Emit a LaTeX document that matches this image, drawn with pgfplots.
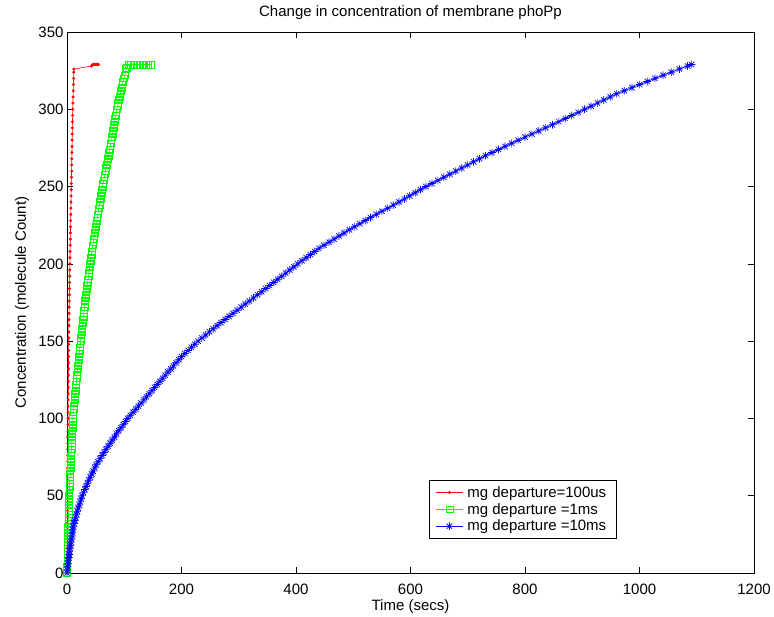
\documentclass[border=0pt]{standalone}
\usepackage{fontspec}
\setmainfont{Liberation Sans}
\usepackage{pgfplots}
\pgfplotsset{compat=1.18}
\pgfdeclareplotmark{mstar}{%
 \pgfpathmoveto{\pgfqpoint{\pgfplotmarksize}{0pt}}\pgfpathlineto{\pgfqpoint{-\pgfplotmarksize}{0pt}}%
 \pgfpathmoveto{\pgfqpoint{0pt}{\pgfplotmarksize}}\pgfpathlineto{\pgfqpoint{0pt}{-\pgfplotmarksize}}%
 \pgfpathmoveto{\pgfqpoint{.707\pgfplotmarksize}{.707\pgfplotmarksize}}\pgfpathlineto{\pgfqpoint{-.707\pgfplotmarksize}{-.707\pgfplotmarksize}}%
 \pgfpathmoveto{\pgfqpoint{.707\pgfplotmarksize}{-.707\pgfplotmarksize}}\pgfpathlineto{\pgfqpoint{-.707\pgfplotmarksize}{.707\pgfplotmarksize}}%
 \pgfusepathqstroke}
\definecolor{mred}{rgb}{1,0,0}
\definecolor{mgreen}{rgb}{0,1,0}
\definecolor{mblue}{rgb}{0,0,1}
\begin{document}
\begin{tikzpicture}
\useasboundingbox (-67bp,-44bp) rectangle (707bp,573bp);
\begin{axis}[
  at={(0,0)}, anchor=south west,
  scale only axis, width=687bp, height=541bp,
  xmin=0, xmax=1200, ymin=0, ymax=350,
  xtick={0,200,...,1200}, ytick={0,50,...,350},
  scaled ticks=false,
  /pgf/number format/1000 sep={},
  /pgf/number format/assume math mode=true,
  font=\fontsize{15bp}{18bp}\selectfont,
  tick align=inside, major tick length=6bp,
  axis line style={line width=0.7bp},
  tick style={line width=0.6bp, black},
  clip=false,
  xticklabel style={anchor=base, yshift=-21bp},
  title={Change in concentration of membrane phoPp},
  title style={at={(axis description cs:0.5,1.0185)}, anchor=base},
  xlabel={Time (secs)},
  xlabel style={at={(axis description cs:0.5,-0.0684)}, anchor=base},
  ylabel={Concentration (molecule Count)},
  ylabel style={at={(axis description cs:-0.0600,0.5)}, anchor=base, rotate=0},
  legend style={at={(axis description cs:0.527,0.172)}, anchor=north west,
    draw=black, line width=0.7bp, font=\fontsize{15bp}{16.5bp}\selectfont,
    inner xsep=6bp, inner ysep=4bp, row sep=0.5bp,
    nodes={inner xsep=4bp}},
  legend cell align=left,
  legend image code/.code={\draw[mark repeat=2,mark phase=2] plot coordinates {(0cm,0cm) (0.48cm,0cm) (0.96cm,0cm)};},
]
\addplot[mred, line width=0.6bp, mark=*, mark size=1.2bp, mark options={solid}] coordinates {
(0,0)(0.06,4)(0.13,8)(0.19,12)(0.26,16)(0.32,20)(0.38,24)(0.45,28)(0.51,32)(0.58,36)(0.64,40)(0.7,44)(0.77,48)
(0.84,52)(0.91,56)(0.98,60)(1.05,64)(1.12,68)(1.2,72)(1.27,76)(1.34,80)(1.41,84)(1.48,88)(1.56,92)(1.63,96)(1.7,100)
(1.8,104)(1.91,108)(2.01,112)(2.12,116)(2.22,120)(2.32,124)(2.43,128)(2.53,132)(2.64,136)(2.74,140)(2.84,144)(2.95,148)
(3.08,152)(3.24,156)(3.4,160)(3.56,164)(3.72,168)(3.88,172)(4.04,176)(4.2,180)(4.36,184)(4.52,188)(4.68,192)(4.84,196)(5,200)
(5.2,204)(5.4,208)(5.6,212)(5.8,216)(6,220)(6.2,224)(6.4,228)(6.6,232)(6.8,236)(7,240)(7.2,244)(7.4,248)
(7.6,252)(7.8,256)(8,260)(8.2,264)(8.4,268)(8.6,272)(8.8,276)(9,280)(9.2,284)(9.4,288)(9.6,292)(9.8,296)(10,300)
(10.31,304)(10.62,308)(10.92,312)(11.23,316)(11.54,320)(11.85,324)(12,326)
(43,328)(45,329)(47,329)(49,329)(51,329)(53,329)(55,329)
};
\addlegendentry{mg departure=100us}
\addplot[mgreen, line width=0.6bp, mark=square, mark size=3.4bp, mark options={solid}] coordinates {
(0,0)(0.13,2)(0.27,4)(0.4,6)(0.53,8)(0.67,10)(0.8,12)(0.93,14)(1.07,16)(1.2,18)(1.33,20)(1.47,22)(1.6,24)(1.73,26)(1.87,28)(2,30)
(2.16,32)(2.32,34)(2.47,36)(2.63,38)(2.79,40)(2.95,42)(3.1,44)(3.26,46)(3.42,48)(3.63,50)(3.9,52)(4.17,54)(4.44,56)(4.71,58)
(4.98,60)(5.25,62)(5.52,64)(5.79,66)(6.06,68)(6.33,70)(6.6,72)(6.87,74)(7.14,76)(7.41,78)(7.69,80)(7.97,82)(8.24,84)(8.52,86)
(8.79,88)(9.07,90)(9.34,92)(9.62,94)(9.9,96)(10.17,98)(10.45,100)(10.72,102)(11,104)(11.54,106)(12.08,108)(12.62,110)
(13.15,112)(13.69,114)(14.23,116)(14.77,118)(15.31,120)(15.85,122)(16.38,124)(16.92,126)(17.46,128)(18,130)(18.57,132)
(19.14,134)(19.71,136)(20.29,138)(20.86,140)(21.43,142)(22,144)(22.57,146)(23.14,148)(23.71,150)(24.31,152)(24.93,154)
(25.55,156)(26.17,158)(26.79,160)(27.41,162)(28.03,164)(28.66,166)(29.28,168)(29.9,170)(30.52,172)(31.14,174)(31.76,176)
(32.38,178)(33,180)(33.74,182)(34.48,184)(35.22,186)(35.96,188)(36.7,190)(37.44,192)(38.19,194)(38.93,196)(39.67,198)
(40.41,200)(41.15,202)(41.89,204)(42.63,206)(43.43,208)(44.3,210)(45.17,212)(46.04,214)(46.91,216)(47.78,218)(48.65,220)
(49.52,222)(50.39,224)(51.26,226)(52.13,228)(53,230)(53.9,232)(54.8,234)(55.7,236)(56.6,238)(57.5,240)(58.4,242)(59.3,244)
(60.2,246)(61.1,248)(62,250)(63.04,252)(64.08,254)(65.12,256)(66.16,258)(67.2,260)(68.24,262)(69.28,264)(70.32,266)
(71.36,268)(72.4,270)(73.44,272)(74.48,274)(75.48,276)(76.44,278)(77.4,280)(78.36,282)(79.32,284)(80.28,286)(81.24,288)
(82.2,290)(83.16,292)(84.12,294)(85.08,296)(86.04,298)(87,300)(88.2,302)(89.4,304)(90.6,306)(91.8,308)(93,310)(94.2,312)
(95.4,314)(96.67,316)(98,318)(99.33,320)(100.67,322)(102,324)(103.33,326)(104,327)
(107,329)(112,329)(117,329)(122,329)(127,329)(132,329)(137,329)(142,329)(147,329)
};
\addlegendentry{mg departure =1ms}
\addplot[mblue, line width=0.8bp, mark=mstar, mark size=3.8bp, mark options={solid, line width=0.7bp}] coordinates {
(0,0)(0.6,2)(1.2,4)(1.8,6)(2.4,8)
(3,10)(3.8,12)(4.6,14)(5.4,16)(6.2,18)
(7,20)(7.8,22)(8.6,24)(9.4,26)(10.2,28)
(11,30)(12.4,32)(13.8,34)(15.2,36)(16.6,38)
(18,40)(19.7,42)(21.4,44)(23.1,46)(24.8,48)
(26.5,50)(28.8,52)(31.1,54)(33.4,56)(35.7,58)
(38,60)(40.6,62)(43.2,64)(45.8,66)(48.4,68)
(51,70)(54.4,72)(57.8,74)(61.2,76)(64.6,78)
(68,80)(71.7,82)(75.4,84)(79.1,86)(82.8,88)
(86.5,90)(90.4,92)(94.3,94)(98.2,96)(102.1,98)
(106,100)(110.7,102)(115.4,104)(120.1,106)(124.8,108)
(129.5,110)(134.2,112)(138.9,114)(143.6,116)(148.3,118)
(153,120)(157.7,122)(162.4,124)(167.1,126)(171.8,128)
(176.5,130)(181.2,132)(185.9,134)(190.6,136)(195.3,138)
(200,140)(205.8,142)(211.6,144)(217.4,146)(223.2,148)
(229,150)(235.6,152)(242.2,154)(248.8,156)(255.4,158)
(262,160)(269,162)(276,164)(283,166)(290,168)
(297,170)(304.2,172)(311.4,174)(318.6,176)(325.8,178)
(333,180)(340,182)(347,184)(354,186)(361,188)
(368,190)(375,192)(382,194)(389,196)(396,198)
(403,200)(410.4,202)(417.8,204)(425.2,206)(432.6,208)
(440,210)(448.8,212)(457.6,214)(466.4,216)(475.2,218)
(484,220)(493.2,222)(502.4,224)(511.6,226)(520.8,228)
(530,230)(540,232)(550,234)(560,236)(570,238)
(580,240)(589.4,242)(598.8,244)(608.2,246)(617.6,248)
(627,250)(637.4,252)(647.8,254)(658.2,256)(668.6,258)
(679,260)(689.4,262)(699.8,264)(710.2,266)(720.6,268)
(731,270)(742.4,272)(753.8,274)(765.2,276)(776.6,278)
(788,280)(800,282)(812,284)(824,286)(836,288)
(848,290)(859.2,292)(870.4,294)(881.6,296)(892.8,298)
(904,300)(915.2,302)(926.4,304)(937.6,306)(948.8,308)
(960,310)(973.4,312)(986.8,314)(1000.2,316)(1013.6,318)
(1027,320)(1041.2,322)(1055.4,324)(1069.7,326)(1083.9,328)(1091,329)
};
\addlegendentry{mg departure =10ms}
\end{axis}
\end{tikzpicture}
\end{document}
